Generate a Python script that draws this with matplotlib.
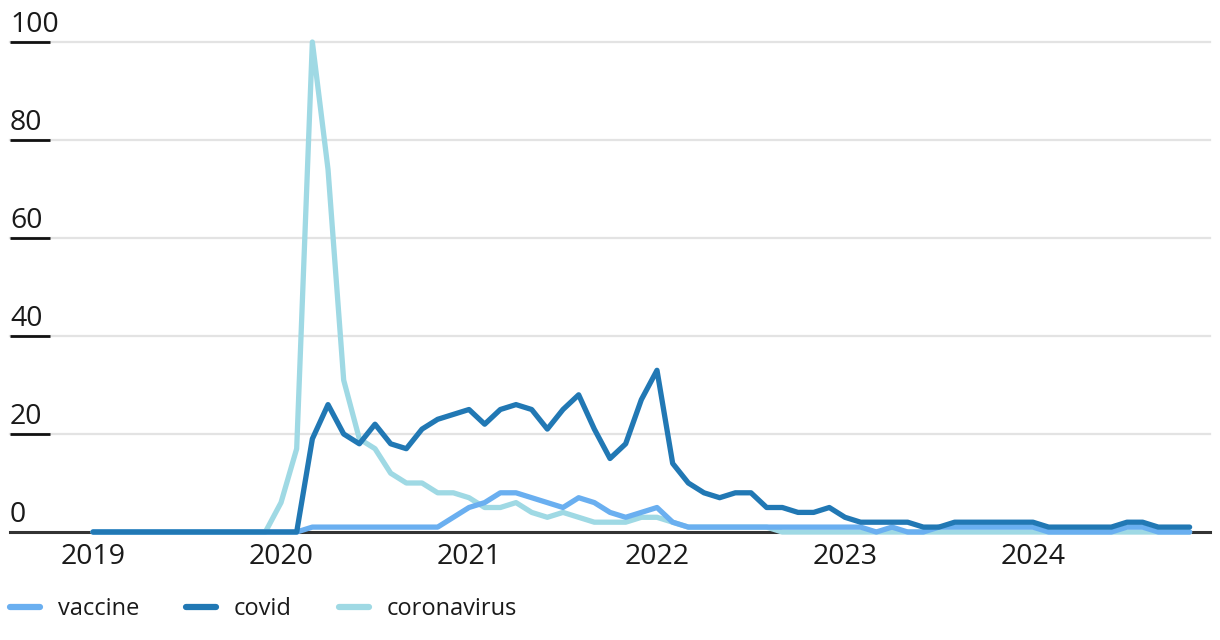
import matplotlib
matplotlib.use("Agg")
import matplotlib.pyplot as plt
from matplotlib.lines import Line2D
import numpy as np

plt.rcParams['font.family'] = ['Open Sans', 'DejaVu Sans']

# monthly values, Jan 2019 .. Nov 2024
vaccine = [0, 0, 0, 0, 0, 0, 0, 0, 0, 0, 0, 0, 0, 0,
           1, 1, 1, 1, 1, 1, 1, 1, 1,
           3, 5, 6, 8, 8, 7, 6, 5, 7, 6, 4, 3, 4, 5, 2, 1,
           1, 1, 1, 1, 1, 1, 1, 1, 1, 1, 1,
           0, 1, 0, 0,
           1, 1, 1, 1, 1, 1, 1,
           0, 0, 0, 0, 0,
           1, 1,
           0, 0, 0]
covid = [0, 0, 0, 0, 0, 0, 0, 0, 0, 0, 0, 0, 0, 0,
         19, 26, 20, 18, 22, 18, 17, 21, 23, 24,
         25, 22, 25, 26, 25, 21, 25, 28, 21, 15,
         18, 27, 33, 14, 10, 8, 7, 8, 8, 5,
         5, 4, 4, 5, 3, 2, 2, 2, 2, 1,
         1, 2, 2, 2, 2, 2, 2, 1, 1, 1,
         1, 1, 2, 2, 1, 1, 1]
coronavirus = [0, 0, 0, 0, 0, 0, 0, 0, 0, 0, 0, 0,
               6, 17, 100, 74, 31, 19, 17, 12, 10, 10,
               8, 8, 7, 5, 5, 6, 4, 3, 4, 3,
               2, 2, 2, 3, 3, 2, 1, 1, 1, 1,
               1, 1,
               0, 0, 0, 0, 0, 0, 0, 0, 0, 0, 0, 0, 0, 0, 0, 0, 0, 0, 0, 0,
               0, 0, 0, 0, 0, 0, 0]
years = ["2019", "2020", "2021", "2022", "2023", "2024"]
yticks = [0, 20, 40, 60, 80, 100]

c_vac = "#6aaff0"
c_cov = "#2178b4"
c_cor = "#9fd9e4"
txt = "#1a1a1a"

months = np.arange(len(covid))

fig = plt.figure(figsize=(12.2, 6.4), dpi=100)
ax = fig.add_axes([10/1220, 108/640, 1200/1220, 490/640])

lw = 3.8
ax.plot(months, coronavirus, color=c_cor, lw=lw, solid_joinstyle='round', solid_capstyle='round', zorder=3, clip_on=False)
ax.plot(months, vaccine, color=c_vac, lw=lw, solid_joinstyle='round', solid_capstyle='round', zorder=4, clip_on=False)
ax.plot(months, covid, color=c_cov, lw=lw, solid_joinstyle='round', solid_capstyle='round', zorder=5, clip_on=False)

ax.set_xlim(-5.3, 71.3)
ax.set_ylim(0, 100)

for s in ax.spines.values():
    s.set_visible(False)

# grid + y labels
for v in yticks:
    if v == 0:
        ax.axhline(0, color="#333333", lw=2.2, zorder=2, clip_on=False)
    else:
        ax.axhline(v, color="#e3e3e3", lw=1.6, zorder=1, clip_on=False)
        ax.plot([0, 40/1200], [v, v], transform=ax.get_yaxis_transform(),
                color="#111111", lw=2, zorder=2, clip_on=False, solid_capstyle='butt')
    ax.annotate(str(v), xy=(0, v), xycoords=ax.get_yaxis_transform(),
                xytext=(0, 7.5), textcoords='offset points',
                ha='left', va='baseline', fontsize=20.5, color=txt)

ax.set_yticks([])
ax.set_xticks(np.arange(0, 72, 12))
ax.set_xticklabels(years, fontsize=20.5, color=txt)
ax.tick_params(axis='x', length=0, pad=8)

handles = [Line2D([], [], color=c, lw=4.5, solid_capstyle='round')
           for c in (c_vac, c_cov, c_cor)]
fig.legend(handles, ["vaccine", "covid", "coronavirus"], loc='center left',
           bbox_to_anchor=(10/1220, 1 - 609/640), ncol=3, frameon=False,
           fontsize=17, handlelength=1.27, handletextpad=0.75,
           columnspacing=2.0, borderpad=0, borderaxespad=0,
           labelcolor=txt)

fig.savefig("out.png", dpi=100)
